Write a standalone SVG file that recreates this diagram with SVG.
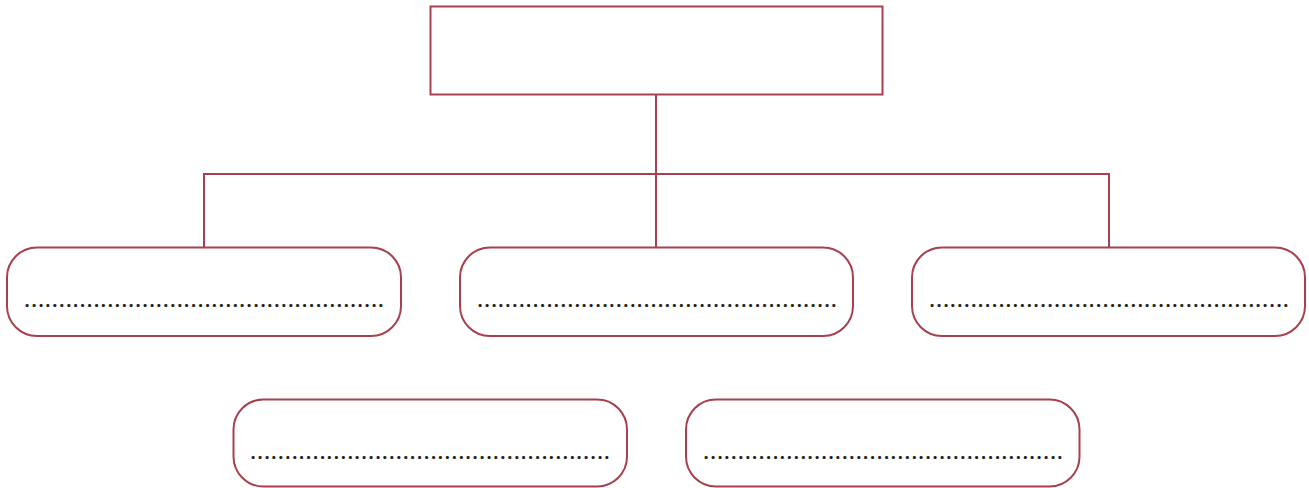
<svg xmlns="http://www.w3.org/2000/svg" width="1309" height="488" viewBox="0 0 1309 488">
<style>
.box{fill:#ffffff;stroke:#a8404f;stroke-width:2}
.conn{fill:none;stroke:#a8404f;stroke-width:2}
.dots{font-family:"Open Sans","Liberation Sans",Arial,sans-serif;font-size:18px;font-weight:bold;fill:#222222}
</style>
<rect width="1309" height="488" fill="#ffffff"/>
<g id="connectors">
<path class="conn" d="M656,95 V174 M204,247 V174 H1109 V247 M656,174 V247"/>
</g>
<g id="root">
<rect class="box" x="430.5" y="6.5" width="452" height="88"/>
</g>
<g id="n1">
<rect class="box" x="7" y="247.5" width="394" height="88.5" rx="30"/>
<text class="dots" x="24.5" y="306.5" textLength="359" lengthAdjust="spacing">....................................................</text>
</g>
<g id="n2">
<rect class="box" x="460" y="247.5" width="393" height="88.5" rx="30"/>
<text class="dots" x="477.5" y="306.5" textLength="359" lengthAdjust="spacing">....................................................</text>
</g>
<g id="n3">
<rect class="box" x="912" y="247.5" width="393" height="88.5" rx="30"/>
<text class="dots" x="929.5" y="306.5" textLength="359" lengthAdjust="spacing">....................................................</text>
</g>
<g id="n4">
<rect class="box" x="233.5" y="399.5" width="393.5" height="87" rx="30"/>
<text class="dots" x="250.5" y="458.5" textLength="359" lengthAdjust="spacing">....................................................</text>
</g>
<g id="n5">
<rect class="box" x="686" y="399.5" width="393.5" height="87" rx="30"/>
<text class="dots" x="703.5" y="458.5" textLength="359" lengthAdjust="spacing">....................................................</text>
</g>
</svg>
